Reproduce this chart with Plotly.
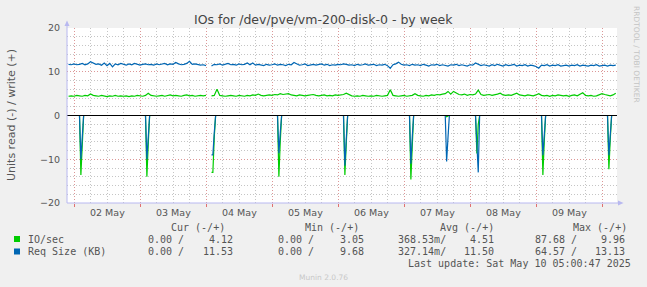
import plotly.graph_objects as go
import pandas as pd

# ---------------- data ----------------
start_time = "2025-05-01 22:00"
n_points = 200  # hourly samples

req_write = [
    11.7, 11.6, 11.8, 11.6, 11.7, 11.9, 11.6, 11.8, 12.3, 11.9, 11.7, 11.8, 11.5, 12.0, 11.4, 11.9, 11.1, 11.8, 11.6, 11.9,
    11.7, 11.5, 11.8, 11.6, 11.9, 11.7, 11.5, 11.7, 11.8, 11.6, 11.7, 11.5, 11.8, 11.6, 11.7, 11.9, 11.6, 11.8, 11.7, 12.1,
    11.8, 11.6, 11.7, 11.9, 12.4, 11.7, 11.8, 11.6, 11.5, 11.6, 11.4, None, 11.3, 11.7, 11.6, 11.8, 11.5, 11.7, 11.9, 11.6,
    11.7, 11.5, 11.8, 11.6, 11.7, 12.0, 11.6, 12.0, 11.5, 11.7, 11.6, 11.4, 11.7, 11.5, 11.6, 11.8, 11.5, 11.7, 11.6, 11.4,
    11.7, 11.6, 12.1, 11.7, 11.5, 11.6, 11.8, 11.4, 11.6, 11.7, 11.5, 11.6, 11.8, 11.5, 11.7, 11.4, 11.6, 11.5, 11.7, 11.6,
    11.8, 11.7, 11.5, 11.6, 11.4, 11.7, 11.5, 11.6, 11.8, 11.5, 11.6, 11.7, 11.4, 11.6, 11.5, 11.7, 11.4, 10.8, 11.6, 11.8,
    12.2, 11.7, 11.5, 11.6, 11.4, 11.7, 11.5, 11.6, 11.4, 11.7, 11.5, 11.3, 11.6, 11.5, 11.7, 11.4, 11.6, 11.5, 11.3, 11.6,
    11.5, 11.7, 11.4, 11.6, 11.5, 11.3, 11.6, 11.5, 12.0, 11.7, 11.4, 11.6, 11.5, 11.3, 11.6, 11.4, 11.7, 11.5, 11.3, 11.6,
    11.4, 11.5, 11.7, 11.3, 11.5, 11.4, 11.6, 11.3, 11.5, 11.4, 11.2, 10.8, 11.5, 11.4, 11.6, 11.3, 11.5, 11.4, 11.6, 11.3,
    11.4, 11.5, 11.3, 11.5, 11.4, 11.6, 11.3, 11.5, 11.4, 11.3, 11.5, 11.4, 11.6, 11.3, 11.4, 11.5, 11.3, 11.5, 11.4, 11.5,
]

io_write = [
    4.4, 4.5, 4.4, 4.6, 4.5, 4.4, 4.6, 4.5, 4.9, 4.6, 4.5, 4.4, 4.6, 4.5, 4.3, 4.5, 4.4, 4.6, 4.4, 4.5,
    4.4, 4.5, 4.3, 4.5, 4.4, 4.6, 4.5, 4.4, 4.6, 5.1, 4.6, 4.5, 4.4, 4.5, 4.6, 4.4, 4.5, 4.7, 4.5, 4.6,
    4.5, 4.4, 4.6, 4.7, 4.5, 4.6, 4.4, 4.5, 4.6, 4.5, 4.6, None, 4.5, 4.6, 6.0, 4.6, 4.5, 4.4, 4.5, 4.6,
    4.5, 4.4, 4.6, 4.5, 4.4, 4.6, 4.5, 4.7, 4.6, 4.9, 4.6, 4.5, 4.6, 4.7, 4.6, 4.8, 4.7, 5.0, 4.8, 4.9,
    5.0, 4.7, 4.6, 4.5, 4.7, 4.6, 4.5, 4.6, 4.7, 4.8, 4.6, 4.5, 4.6, 4.7, 4.5, 4.6, 4.5, 4.7, 4.6, 4.7,
    4.8, 5.1, 4.7, 4.5, 4.4, 4.5, 4.4, 4.6, 4.5, 4.4, 4.5, 4.4, 4.6, 4.5, 4.4, 4.5, 4.6, 5.9, 4.6, 4.5,
    4.4, 4.5, 4.6, 4.4, 4.5, 4.6, 5.0, 4.6, 4.5, 4.4, 4.6, 4.5, 4.7, 4.6, 4.8, 4.7, 4.9, 5.0, 5.5, 4.9,
    5.5, 5.2, 4.8, 4.7, 4.9, 4.6, 4.8, 4.7, 4.9, 5.8, 4.8, 4.6, 4.7, 4.8, 4.6, 4.7, 4.9, 5.1, 4.7, 4.6,
    4.7, 4.6, 4.8, 5.1, 4.7, 4.6, 4.5, 4.7, 4.6, 4.5, 4.7, 5.0, 4.6, 4.5, 4.6, 4.4, 4.6, 4.5, 4.7, 4.6,
    4.5, 4.6, 4.4, 4.6, 4.7, 4.5, 4.8, 5.2, 4.6, 4.5, 4.6, 4.4, 4.5, 4.7, 5.0, 4.8, 4.6, 4.5, 4.7, 5.1,
]

read_times = [
    "2025-05-01 22:00",
    "2025-05-02 02:00", "2025-05-02 02:30", "2025-05-02 03:00", "2025-05-02 03:30",
    "2025-05-03 02:00", "2025-05-03 02:30", "2025-05-03 03:00", "2025-05-03 03:30",
    "2025-05-04 00:00", "2025-05-04 01:00", "2025-05-04 02:00", "2025-05-04 02:30", "2025-05-04 03:00", "2025-05-04 03:30",
    "2025-05-05 02:00", "2025-05-05 02:30", "2025-05-05 03:00", "2025-05-05 03:30",
    "2025-05-06 02:00", "2025-05-06 02:30", "2025-05-06 03:00", "2025-05-06 03:30",
    "2025-05-07 02:00", "2025-05-07 02:30", "2025-05-07 03:00", "2025-05-07 03:30",
    "2025-05-07 15:00", "2025-05-07 15:30", "2025-05-07 16:00", "2025-05-07 16:30",
    "2025-05-08 02:00", "2025-05-08 02:30", "2025-05-08 03:00", "2025-05-08 03:30",
    "2025-05-09 02:00", "2025-05-09 02:30", "2025-05-09 03:00", "2025-05-09 03:30",
    "2025-05-10 02:00", "2025-05-10 02:30", "2025-05-10 03:00", "2025-05-10 03:30",
    "2025-05-10 05:00",
]
io_read = [0,
           0, -13.6, -6.0, 0,
           0, -14.0, -6.5, 0,
           0, None, -13.0, -13.0, -5.0, 0,
           0, -14.0, -6.0, 0,
           0, -13.6, -6.5, 0,
           0, -14.6, -7.0, 0,
           0, -0.3, -0.1, 0,
           0, -8.7, -2.0, 0,
           0, -13.6, -6.0, 0,
           0, -12.3, -5.5, 0,
           0]
req_read = [0,
            0, -10.0, -5.0, 0,
            0, -10.0, -5.0, 0,
            0, None, -9.0, -9.0, -4.0, 0,
            0, -8.6, -4.0, 0,
            0, -11.5, -5.5, 0,
            0, -11.0, -5.0, 0,
            0, -10.5, -5.0, 0,
            0, -8.7, -13.0, 0,
            0, -9.1, -4.5, 0,
            0, -9.1, -4.5, 0,
            0]

day_labels = ["02 May", "03 May", "04 May", "05 May", "06 May", "07 May", "08 May", "09 May"]
day_noons = ["2025-05-%02d 12:00" % d for d in range(2, 10)]
midnights = ["2025-05-%02d 00:00" % d for d in range(2, 11)]
y_ticks = [-20, -10, 0, 10, 20]

legend_rows = [
    ("IO/sec", "#00cc00", ["0.00 /", "4.12", "0.00 /", "3.05", "368.53m/", "4.51", "87.68 /", "9.96"]),
    ("Req Size (KB)", "#0066b3", ["0.00 /", "11.53", "0.00 /", "9.68", "327.14m/", "11.50", "64.57 /", "13.13"]),
]
legend_headers = ["Cur (-/+)", "Min (-/+)", "Avg (-/+)", "Max (-/+)"]

# ---------------- layout helpers (pixel -> paper) ----------------
W, H = 647, 287
L, R, T, B = 67, 617, 28, 203


def fx(x):
    return (x - L) / (R - L)


def fy(y):
    return (B - y) / (B - T)


x_start = pd.Timestamp("2025-05-02 00:00") - pd.Timedelta(days=7 / 66)
x_end = pd.Timestamp("2025-05-02 00:00") + pd.Timedelta(days=(R - 74) / 66)

times = pd.date_range(start_time, periods=n_points, freq="h")

GREEN = "#00cc00"
BLUE = "#0066b3"
LW = 1.2

fig = go.Figure()
fig.add_trace(go.Scatter(x=times, y=io_write, mode="lines", line=dict(color=GREEN, width=LW), connectgaps=False))
fig.add_trace(go.Scatter(x=pd.to_datetime(read_times), y=io_read, mode="lines", line=dict(color=GREEN, width=LW), connectgaps=False))
fig.add_trace(go.Scatter(x=times, y=req_write, mode="lines", line=dict(color=BLUE, width=LW), connectgaps=False))
fig.add_trace(go.Scatter(x=pd.to_datetime(read_times), y=req_read, mode="lines", line=dict(color=BLUE, width=LW), connectgaps=False))

MAJ = "rgba(235,120,120,0.6)"
MIN = "rgba(150,150,150,0.55)"
TXT = "#555555"
FONT = "DejaVu Sans"

fig.update_layout(
    width=W, height=H,
    margin=dict(l=L, r=W - R, t=T, b=H - B),
    paper_bgcolor="#f0f0f0", plot_bgcolor="#ffffff",
    showlegend=False,
    font=dict(family=FONT, size=10, color=TXT),
    xaxis=dict(
        range=[x_start, x_end], tickmode="array", tickvals=midnights,
        showticklabels=False, showgrid=True, gridcolor=MAJ, griddash="1px,2px", gridwidth=1,
        ticks="outside", ticklen=3, tickcolor="#e07070", tickwidth=1,
        minor=dict(dtick=6 * 3600 * 1000, tick0="2025-05-02", showgrid=True, gridcolor=MIN,
                   griddash="1px,2px", gridwidth=1, ticks=""),
        showline=False, zeroline=False, fixedrange=True,
    ),
    yaxis=dict(
        range=[-20, 20], tickmode="array", tickvals=y_ticks,
        showgrid=True, gridcolor=MAJ, griddash="1px,2px", gridwidth=1,
        minor=dict(dtick=2, tick0=0, showgrid=True, gridcolor=MIN, griddash="1px,2px", gridwidth=1),
        zeroline=False, showline=False, ticks="outside", ticklen=4, tickcolor="rgba(0,0,0,0)",
        tickfont=dict(family=FONT, size=9.5, color=TXT),
    ),
)

AX = "#b8b8f0"
shapes = [
    dict(type="line", xref="paper", yref="y", x0=0, x1=1, y0=0, y1=0, line=dict(color="#000000", width=1), layer="above"),
    dict(type="line", xref="paper", yref="paper", x0=fx(67), x1=fx(67), y0=fy(203), y1=fy(24), line=dict(color=AX, width=1), layer="above"),
    dict(type="path", xref="paper", yref="paper",
         path="M %f %f L %f %f L %f %f Z" % (fx(64.5), fy(26), fx(67), fy(20.5), fx(69.5), fy(26)),
         fillcolor=AX, line=dict(color=AX, width=0), layer="above"),
    dict(type="line", xref="paper", yref="paper", x0=fx(67), x1=fx(619), y0=fy(203), y1=fy(203), line=dict(color=AX, width=1), layer="above"),
    dict(type="path", xref="paper", yref="paper",
         path="M %f %f L %f %f L %f %f Z" % (fx(618), fy(200.5), fx(623.5), fy(203), fx(618), fy(205.5)),
         fillcolor=AX, line=dict(color=AX, width=0), layer="above"),
]

ann = []
ann.append(dict(text="IOs for /dev/pve/vm-200-disk-0 - by week", x=fx(323), y=fy(19), xref="paper", yref="paper",
                showarrow=False, xanchor="center", yanchor="middle", font=dict(family=FONT, size=12.5, color="#444444")))
ann.append(dict(text="Units read (-) / write (+)", x=fx(11), y=fy(115), xref="paper", yref="paper", textangle=-90,
                showarrow=False, xanchor="center", yanchor="middle", font=dict(family=FONT, size=11, color=TXT)))
ann.append(dict(text="RRDTOOL / TOBI OETIKER", x=fx(637), y=fy(54), xref="paper", yref="paper", textangle=90,
                showarrow=False, xanchor="center", yanchor="middle", font=dict(family=FONT, size=7.5, color="#c4c4c4")))
ann.append(dict(text="Munin 2.0.76", x=fx(323), y=fy(277), xref="paper", yref="paper",
                showarrow=False, xanchor="center", yanchor="middle", font=dict(family=FONT, size=7.5, color="#c8c8c8")))

for lab, t in zip(day_labels, day_noons):
    ann.append(dict(text=lab, x=t, y=fy(212), xref="x", yref="paper", showarrow=False,
                    xanchor="center", yanchor="middle", font=dict(family=FONT, size=9.5, color=TXT)))

MONO = "DejaVu Sans Mono"
header_centers = [198, 332, 466.5, 600]
for h, cx in zip(legend_headers, header_centers):
    ann.append(dict(text=h, x=fx(cx), y=fy(227), xref="paper", yref="paper", showarrow=False,
                    xanchor="center", yanchor="middle", font=dict(family=MONO, size=10, color=TXT)))

value_rights = [186, 234.7, 316, 365.7, 448.3, 496, 578.5, 627]
row_y = [239, 251.5]
for (name, color, vals), yy in zip(legend_rows, row_y):
    shapes.append(dict(type="rect", xref="paper", yref="paper", x0=fx(14), x1=fx(20), y0=fy(yy - 3), y1=fy(yy + 3),
                       fillcolor=color, line=dict(width=0), layer="above"))
    ann.append(dict(text=name, x=fx(25.5), y=fy(yy), xref="paper", yref="paper", showarrow=False,
                    xanchor="left", yanchor="middle", font=dict(family=MONO, size=10, color=TXT)))
    for v, rx in zip(vals, value_rights):
        ann.append(dict(text=v, x=fx(rx), y=fy(yy), xref="paper", yref="paper", showarrow=False,
                        xanchor="right", yanchor="middle", font=dict(family=MONO, size=10, color=TXT)))

ann.append(dict(text="Last update: Sat May 10 05:00:47 2025", x=fx(633), y=fy(263.5), xref="paper", yref="paper",
                showarrow=False, xanchor="right", yanchor="middle", font=dict(family=MONO, size=10, color=TXT)))

fig.update_layout(shapes=shapes, annotations=ann)
fig.write_html("out.html")
